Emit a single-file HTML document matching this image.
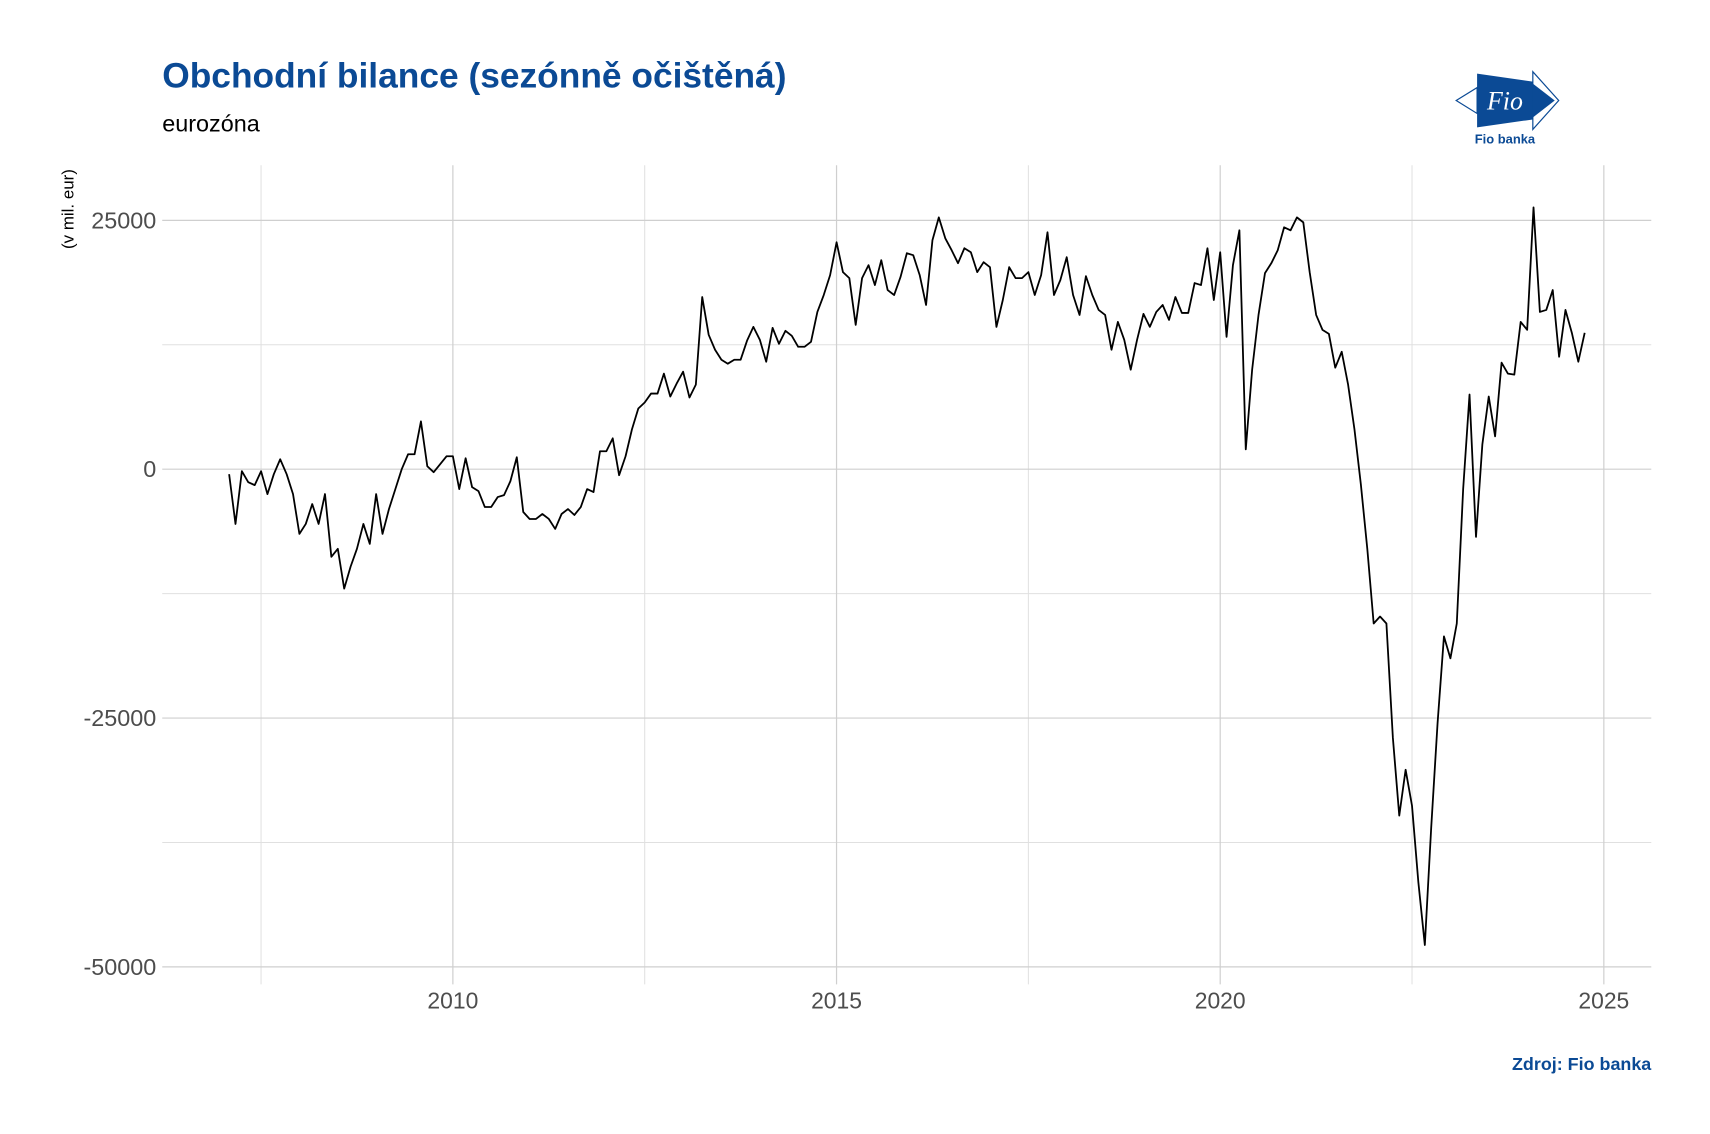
<!DOCTYPE html>
<html><head><meta charset="utf-8"><style>
html,body{margin:0;padding:0;background:#fff;}
svg{display:block;font-family:"Liberation Sans",sans-serif;}
</style></head><body>
<svg id="chart" width="1710" height="1134" viewBox="0 0 1718 1139" preserveAspectRatio="xMinYMin meet">
<text x="163" y="88" font-size="35.5" font-weight="bold" fill="#0b4a95">Obchodní bilance (sezónně očištěná)</text>
<text x="163" y="132" font-size="23.5" fill="#000">eurozóna</text>
<g>
<polygon points="1463,101 1484,88 1484,114" fill="none" stroke="#0b4a95" stroke-width="1.2"/>
<polygon points="1484,74 1540,82 1566,101 1540,120 1484,128" fill="#0b4a95"/>
<polygon points="1540,72 1540,130 1566,101" fill="#fff" stroke="#0b4a95" stroke-width="1.2"/>
<polygon points="1540,84 1562,101 1540,118" fill="#0b4a95"/>
<text x="1512" y="110" font-size="26" font-family="Liberation Serif,serif" fill="#fff" text-anchor="middle" font-style="italic">Fio</text>
<text x="1512" y="144" font-size="13" font-weight="bold" fill="#0b4a95" text-anchor="middle">Fio banka</text>
</g>
<text transform="translate(74,210) rotate(-90)" font-size="17" text-anchor="middle" fill="#000">(v mil. eur)</text>
<g id="grid"></g><g id="axes"></g>
<path id="line" fill="none" stroke="#000" stroke-width="1.8" stroke-linejoin="round"></path>
<text x="1659" y="1075" font-size="18" font-weight="bold" fill="#0b4a95" text-anchor="end">Zdroj: Fio banka</text>
</svg>
<script>
const startYear = 2007, startMonth = 2;
const values = [
-0.5,-5.5,-0.2,-1.3,-1.6,-0.2,-2.5,-0.5,1,-0.5,-2.5,
-6.5,-5.5,-3.5,-5.5,-2.5,-8.8,-8,-12,-9.8,-8,-5.5,-7.5,
-2.5,-6.5,-4,-2,0,1.5,1.5,4.8,0.3,-0.3,0.5,1.3,
1.3,-2,1.1,-1.8,-2.2,-3.8,-3.8,-2.8,-2.6,-1.2,1.2,-4.3,
-5,-5,-4.5,-5,-6,-4.5,-4,-4.6,-3.8,-2,-2.3,1.8,
1.8,3.1,-0.6,1.3,4,6.1,6.7,7.6,7.6,9.6,7.3,8.6,
9.8,7.2,8.5,17.3,13.5,12,11,10.6,11,11,12.9,14.3,
13,10.8,14.2,12.6,13.9,13.4,12.3,12.3,12.8,15.8,17.5,19.5,
22.8,19.8,19.2,14.5,19.2,20.5,18.5,21,18,17.5,19.3,21.7,
21.5,19.5,16.5,23,25.3,23.2,22,20.7,22.2,21.8,19.8,20.8,
20.3,14.3,17,20.3,19.2,19.2,19.8,17.5,19.5,23.8,17.5,19,
21.3,17.5,15.5,19.4,17.5,16,15.5,12,14.8,13,10,13,
15.6,14.3,15.8,16.5,15,17.3,15.7,15.7,18.7,18.5,22.2,17,
21.8,13.3,20.5,24,2,10,15.5,19.7,20.7,22,24.3,24,
25.3,24.8,19.8,15.5,14,13.6,10.2,11.8,8.5,4,-1.5,-8,
-15.5,-14.8,-15.5,-27,-34.8,-30.2,-33.8,-41.5,-47.8,-36,-25.5,-16.8,
-19,-15.5,-2,7.5,-6.8,2.5,7.3,3.3,10.7,9.6,9.5,14.8,
14,26.3,15.8,16,18,11.3,16,13.7,10.8,13.7
].map(v=>v*1000);
const yTicks = [25000,0,-25000,-50000];
const yTickLabels = ["25000","0","-25000","-50000"];
const yMinor = [12500,-12500,-37500];
const xTicks = [2010,2015,2020,2025];
const xMinor = [2007.5,2012.5,2017.5,2022.5];

const L=163,R=1659,T=166,B=989;
const xs = d => 455 + (d-2010)*77.09;
const ys = v => 471.4 - v*0.01;
const NS="http://www.w3.org/2000/svg";
const grid=document.getElementById('grid'), axes=document.getElementById('axes');
function ln(x1,y1,x2,y2,c,w){const e=document.createElementNS(NS,'line');e.setAttribute('x1',x1);e.setAttribute('y1',y1);e.setAttribute('x2',x2);e.setAttribute('y2',y2);e.setAttribute('stroke',c);e.setAttribute('stroke-width',w);grid.appendChild(e);return e;}
yMinor.forEach(v=>{const e=ln(L,ys(v),R,ys(v),'#e0e0e0',1);

});
xMinor.forEach(d=>{const e=ln(xs(d),T,xs(d),B,'#e0e0e0',1);

});
yTicks.forEach((v,i)=>{const e=ln(L,ys(v),R,ys(v),'#cfcfcf',1.2);


const t=document.createElementNS(NS,'text');t.setAttribute('x',157);t.setAttribute('y',ys(v)+8);t.setAttribute('text-anchor','end');t.setAttribute('font-size','23.5');t.setAttribute('fill','#4d4d4d');t.textContent=yTickLabels[i];


axes.appendChild(t);});
xTicks.forEach(d=>{const e=ln(xs(d),T,xs(d),B,'#cfcfcf',1.2);


const t=document.createElementNS(NS,'text');t.setAttribute('x',xs(d));t.setAttribute('y',1013);t.setAttribute('text-anchor','middle');t.setAttribute('font-size','23');t.setAttribute('fill','#4d4d4d');t.textContent=d;


axes.appendChild(t);});
let p='';
values.forEach((v,i)=>{const d=startYear+(startMonth-1+i)/12;p+=(i?'L':'M')+xs(d).toFixed(1)+','+ys(v).toFixed(1);});
document.getElementById('line').setAttribute('d',p);
</script>
</body></html>
